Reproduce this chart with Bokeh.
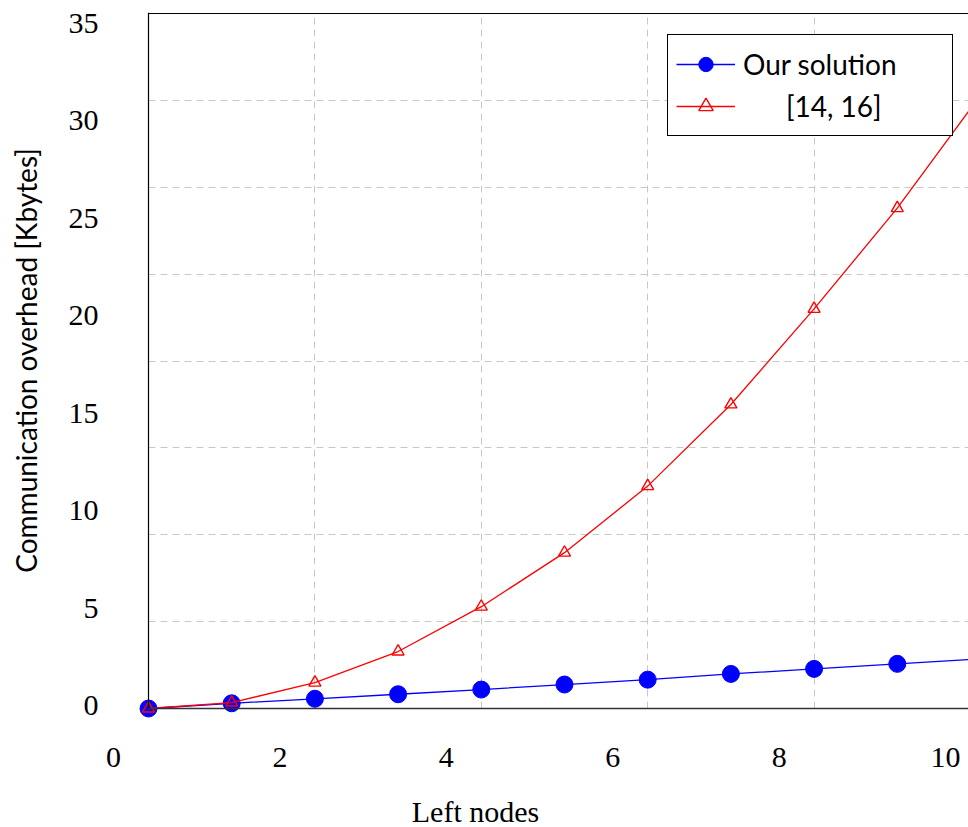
from bokeh.plotting import figure
from bokeh.models import (Range1d, LinearAxis, SingleIntervalTicker, FixedTicker, Legend,
                          LegendItem, Grid)
from bokeh.embed import file_html
from bokeh.resources import INLINE

# ---- data ----
left_nodes = [0, 1, 2, 3, 4, 5, 6, 7, 8, 9, 10]
our_solution = [0.0, 0.30, 0.56, 0.82, 1.09, 1.38, 1.66, 1.99, 2.28, 2.57, 2.85]
ref_14_16 = [0.0, 0.34, 1.49, 3.28, 5.86, 8.97, 12.8, 17.5, 23.0, 28.8, 35.3]

x_ticks = [0, 2, 4, 6, 8, 10]
y_ticks = [0, 5, 10, 15, 20, 25, 30, 35]
x_title = "Left nodes"
y_title = "Communication overhead [Kbytes]"
series_names = ["Our solution", "[14, 16]"]

SERIF = "Liberation Serif"
SANS = "Lato"

# the plot area spans the canvas; the axes are drawn at x = 0 and y = 0
X_START, X_END = -1.779, 9.856
Y_START, Y_END = -6.849, 40.06
Y_TOP = 40

p = figure(width=968, height=827, x_range=Range1d(X_START, X_END),
           y_range=Range1d(Y_START, Y_END),
           output_backend="svg", toolbar_location=None,
           x_axis_type=None, y_axis_type=None,
           min_border_left=0, min_border_right=0, min_border_top=12, min_border_bottom=0)
p.outline_line_color = None
p.background_fill_color = "white"

# tick-label ranges (the tick labels of the original are offset from its grid)
p.extra_x_ranges = {"xlab": Range1d(-1.358, 10.276)}
p.extra_y_ranges = {"ylab": Range1d(-6.26, 35.56)}

no_ticks = dict(major_tick_in=0, major_tick_out=0, minor_tick_in=0, minor_tick_out=0,
                major_tick_line_color=None, minor_tick_line_color=None)

# bottom frame line, from x = 0 to the right edge
ax_x = LinearAxis(ticker=FixedTicker(ticks=[]), fixed_location=0, bounds=(0, X_END),
                  axis_line_color="#333333", axis_line_width=1.5, **no_ticks)
p.add_layout(ax_x, "below")

# x tick labels and title
lab_x = LinearAxis(x_range_name="xlab", fixed_location=0, ticker=FixedTicker(ticks=x_ticks),
                   bounds=(-1.299, 10.001), axis_line_color=None, major_label_standoff=39,
                   major_label_text_font=SERIF, major_label_text_font_size="30px",
                   major_label_text_color="black",
                   axis_label=x_title, axis_label_text_font=SERIF,
                   axis_label_text_font_size="30px", axis_label_text_font_style="normal",
                   axis_label_text_color="black", axis_label_standoff=25, **no_ticks)
p.add_layout(lab_x, "below")

# y axis drawn at x = 0, with its labels and title
lab_y = LinearAxis(y_range_name="ylab", fixed_location=0, ticker=FixedTicker(ticks=y_ticks),
                   bounds=(-0.154, 35.56), axis_line_color="black", axis_line_width=1.2,
                   major_label_standoff=50, major_label_text_font=SERIF,
                   major_label_text_font_size="30px", major_label_text_color="black",
                   axis_label=y_title, axis_label_text_font=SANS,
                   axis_label_text_font_size="28px", axis_label_text_font_style="normal",
                   axis_label_text_color="black", axis_label_standoff=23, **no_ticks)
p.add_layout(lab_y, "left")

# grids (only inside the axes box)
p.add_layout(Grid(dimension=0, ticker=SingleIntervalTicker(interval=2), bounds=(0, X_END),
                  cross_bounds=(0, Y_END),
                  grid_line_color="#c8c8c8", grid_line_dash="7 5", grid_line_width=1))
p.add_layout(Grid(dimension=1, ticker=SingleIntervalTicker(interval=5), bounds=(0, Y_END),
                  cross_bounds=(0, X_END),
                  grid_line_color="#c8c8c8", grid_line_dash="7 5", grid_line_width=1))
# top frame line
p.add_layout(Grid(dimension=1, ticker=FixedTicker(ticks=[Y_TOP]), cross_bounds=(0, X_END),
                  grid_line_color="black", grid_line_width=1.2))

# series
bl = p.line(left_nodes, our_solution, line_color="#0000ff", line_width=1.3)
bs = p.scatter(left_nodes, our_solution, marker="circle", size=17,
               fill_color="#0000ff", line_color="#0000ff")
rl = p.line(left_nodes, ref_14_16, line_color="#ff0000", line_width=1.3)
rs = p.scatter(left_nodes, ref_14_16, marker="triangle", size=12,
               fill_color=None, line_color="#ff0000", line_width=1.4)

legend = Legend(items=[LegendItem(label=series_names[0], renderers=[bl, bs]),
                       LegendItem(label="\u00a0" * 6 + series_names[1], renderers=[rl, rs])],
                location=(667, 691), padding=8, spacing=0, margin=0,
                glyph_width=59, glyph_height=36, label_height=42, label_width=201,
                label_standoff=8, label_text_font=SANS, label_text_font_size="28px",
                label_text_color="black", border_line_color="black", border_line_width=1,
                border_line_alpha=1, background_fill_color="white", background_fill_alpha=1)
p.add_layout(legend)

open("out.html", "w").write(file_html(p, INLINE))
